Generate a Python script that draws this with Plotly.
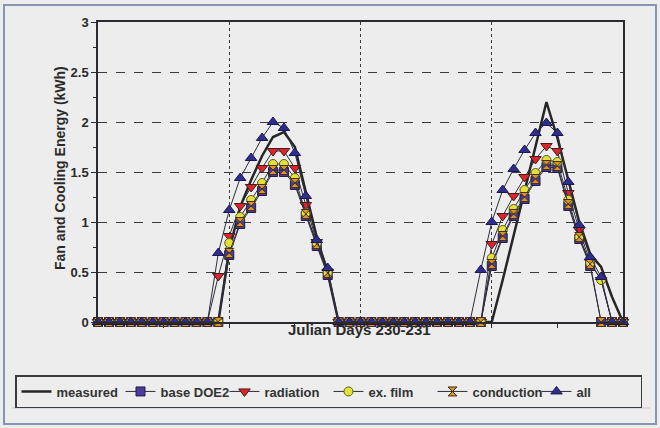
import plotly.graph_objects as go

# hours 0..48 over Julian days 230-231
hours = list(range(49))

measured = [0]*12 + [0.72, 1.15, 1.42, 1.66, 1.85, 1.90, 1.75, 1.30, 0.85, 0.49] + [0]*15 + \
           [0.42, 0.86, 1.30, 1.74, 2.20, 1.84, 1.42, 1.00, 0.68, 0.55, 0.25, 0]
base_doe2 = [0]*12 + [0.67, 0.98, 1.14, 1.31, 1.50, 1.50, 1.37, 1.06, 0.76, 0.47] + [0]*14 + \
            [0.56, 0.84, 1.06, 1.23, 1.41, 1.55, 1.54, 1.16, 0.83, 0.56, 0, 0, 0]
radiation = [0]*11 + [0.46, 0.86, 1.16, 1.35, 1.54, 1.71, 1.71, 1.54, 1.17, 0.80, 0.50] + [0]*14 + \
            [0.78, 1.06, 1.26, 1.45, 1.63, 1.76, 1.71, 1.29, 0.92, 0.60, 0.42, 0, 0]
ex_film = [0]*12 + [0.79, 1.05, 1.22, 1.39, 1.58, 1.58, 1.44, 1.09, 0.79, 0.49] + [0]*14 + \
          [0.64, 0.92, 1.13, 1.32, 1.49, 1.62, 1.60, 1.22, 0.85, 0.59, 0.42, 0, 0]
conduction = [0]*12 + [0.69, 1.00, 1.16, 1.33, 1.52, 1.52, 1.39, 1.08, 0.78, 0.49] + [0]*14 + \
             [0.58, 0.86, 1.08, 1.25, 1.43, 1.57, 1.56, 1.18, 0.85, 0.58, 0, 0, 0]
all_mods = [0]*11 + [0.69, 1.12, 1.44, 1.64, 1.84, 2.00, 1.94, 1.69, 1.26, 0.82, 0.54] + [0]*13 + \
           [0.52, 1.00, 1.32, 1.53, 1.72, 1.89, 1.99, 1.89, 1.40, 0.97, 0.65, 0.45, 0, 0]

BG = "#ECEDEC"
DARK = "#2A2A30"
FONT = "Liberation Sans, Arial, sans-serif"

# pixel -> paper helpers (plot area 98..623 x, 22..322 y)
def px(x):
    return (x - 98) / 525

def py(y):
    return (322 - y) / 300

fig = go.Figure()
fig.add_trace(go.Scatter(x=hours, y=measured, name="measured", mode="lines",
                         line=dict(color="#262626", width=2.5), cliponaxis=False))
series = [
    ("base DOE2", base_doe2, "square", 9, "#4A3C98", "#241C50"),
    ("radiation", radiation, "triangle-down", 10, "#D8262C", "#4A1A1A"),
    ("ex. film", ex_film, "circle", 9, "#E4E03A", "#5C5A1E"),
    ("conduction", conduction, "hourglass", 9, "#D8922E", "#4A3010"),
    ("all", all_mods, "triangle-up", 10, "#302E8C", "#1A1850"),
]
for name, vals, sym, size, fill, edge in series:
    fig.add_trace(go.Scatter(x=hours, y=vals, name=name, mode="lines+markers",
                             line=dict(color="#2E2E3E", width=1),
                             marker=dict(symbol=sym, size=size, color=fill,
                                         line=dict(color=edge, width=1)),
                             cliponaxis=False))

fig.update_layout(
    width=660, height=428,
    margin=dict(l=98, r=37, t=22, b=106),
    paper_bgcolor=BG, plot_bgcolor=BG,
    font=dict(family=FONT, color="#222222", size=11),
    showlegend=True,
    legend=dict(orientation="h", x=px(15), y=py(375), xanchor="left", yanchor="top",
                bgcolor=BG, bordercolor="#3A3A3A", borderwidth=1.5,
                font=dict(family=FONT, size=13, weight="bold", color="#333333"),
                entrywidth=59, itemwidth=30, tracegroupgap=0),
    xaxis=dict(range=[0, 48], showticklabels=False,
               tickvals=[12, 24, 36], ticks="outside", ticklen=4, tickcolor=DARK,
               showgrid=True, gridcolor="#3A3A3A", griddash="dot", gridwidth=1,
               minor=dict(tickvals=[6, 18, 30, 42], ticks="outside", ticklen=4,
                          tickcolor=DARK, showgrid=False),
               showline=True, linecolor=DARK, linewidth=1.5, mirror=True,
               zeroline=False),
    yaxis=dict(range=[0, 3], dtick=0.5, tickformat="~g",
               ticks="outside", ticklen=5, tickcolor=DARK,
               tickfont=dict(family=FONT, size=13, weight="bold", color="#2A2A2A"),
               showgrid=True, gridcolor="#3A3A3A", griddash="dash", gridwidth=1,
               minor=dict(dtick=0.25, ticks="outside", ticklen=3, tickcolor=DARK,
                          showgrid=False),
               showline=True, linecolor=DARK, linewidth=1.5, mirror=True,
               zeroline=False),
    annotations=[
        dict(text="Fan and Cooling Energy (kWh)", xref="paper", yref="paper",
             x=px(50), y=py(168), textangle=-90, showarrow=False,
             font=dict(family=FONT, size=14, weight="bold", color="#2A2A2A")),
        dict(text="Julian Days 230-231", xref="paper", yref="paper",
             x=px(359), y=py(340), showarrow=False,
             font=dict(family=FONT, size=15, weight="bold", color="#2A2A2A")),
    ],
    shapes=[
        dict(type="rect", xref="paper", yref="paper", x0=px(4), x1=px(656),
             y0=py(424), y1=py(5), line=dict(color="#8396B4", width=2),
             layer="below"),
        dict(type="line", xref="paper", yref="paper", x0=px(12), x1=px(650),
             y0=py(408), y1=py(408), line=dict(color="#BFCAD6", width=1)),
    ],
)

fig.write_html("out.html", config={"displayModeBar": False},
               post_script="document.body.style.margin='0px';document.body.style.overflow='hidden';")
